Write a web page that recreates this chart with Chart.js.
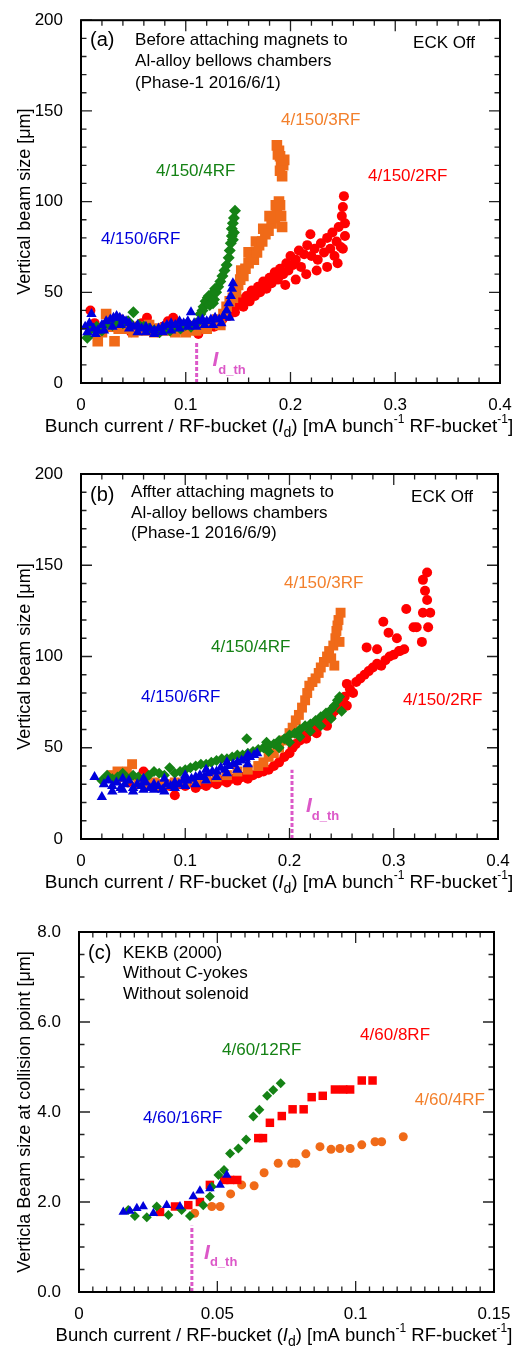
<!DOCTYPE html>
<html lang="en">
<head>
<meta charset="UTF-8">
<title>Vertical beam size vs bunch current</title>
<script src="https://cdn.jsdelivr.net/npm/chart.js"></script>
<style>
  body { margin: 0; background: #fff; }
  canvas { position: absolute; left: 0; }
</style>
</head>
<body>
<canvas id="chartA" width="516" height="450" style="top:0px"></canvas>
<canvas id="chartB" width="516" height="455" style="top:450px"></canvas>
<canvas id="chartC" width="516" height="444" style="top:905px"></canvas>
<script>
// ---- panel (a): before attaching magnets (2016/6/1) ----
const a2RF = [[0.009,40],[0.013,33],[0.018,30],[0.023,32],[0.028,34],[0.033,31],[0.038,35],[0.043,32],[0.048,28],[0.053,30],[0.058,33],[0.063,36],[0.068,30],[0.073,28],[0.078,31],[0.083,34],[0.088,36],[0.093,33],[0.098,30],[0.103,32],[0.108,29],[0.112,27],[0.117,30],[0.122,32],[0.127,31],[0.131,34],
  [0.135,35],[0.138,39],[0.141,37],[0.144,41],[0.147,39],[0.15,43],[0.153,46],[0.155,42],[0.158,48],[0.161,45],[0.163,51],[0.166,48],[0.169,53],[0.171,50],[0.174,56],[0.177,52],[0.18,58],[0.182,55],[0.185,61],[0.188,57],[0.19,63],[0.193,60],[0.195,54],[0.196,66],[0.198,62],[0.2,70],[0.202,65],[0.205,57],[0.205,68],[0.208,73],[0.21,64],[0.213,71],[0.215,60],[0.216,76],[0.219,82],[0.22,70],[0.223,74],[0.225,62],[0.226,68],[0.229,77],[0.232,72],[0.235,64],[0.235,80],[0.238,74],[0.24,83],[0.242,70],[0.244,78],[0.245,66],[0.246,86],[0.248,75],[0.249,92],[0.25,74],[0.25,97],[0.251,103],[0.252,88],[0.252,81]];
const a3RF = [[0.016,23],[0.02,28],[0.024,38],[0.028,31],[0.032,23],[0.036,30],[0.04,33],[0.045,30],[0.05,28],[0.055,31],[0.06,29],[0.065,32],[0.07,28],[0.075,30],[0.08,29],[0.085,31],[0.09,28],[0.095,30],[0.1,28],[0.105,30],[0.11,29],[0.115,31],[0.12,30],[0.125,33],[0.13,35],[0.133,32],
  [0.136,38],[0.139,42],[0.142,45],[0.145,47],[0.148,50],[0.15,54],[0.152,57],[0.153,62],[0.155,59],[0.157,63],[0.16,66],[0.16,72],[0.162,70],[0.165,68],[0.167,78],[0.168,72],[0.17,76],[0.173,78],[0.174,85],[0.176,82],[0.179,84],[0.18,92],[0.182,88],[0.185,91],[0.186,98],[0.187,95],[0.19,98],[0.191,92],[0.192,86],[0.189,100],
  [0.187,131],[0.189,128],[0.19,125],[0.191,122],[0.193,120],[0.19,117],[0.192,114],[0.194,123],[0.188,126]];
const a4RF = [[0.006,25],[0.01,30],[0.015,31],[0.02,29],[0.025,33],[0.03,32],[0.035,35],[0.04,33],[0.045,34],[0.05,39],[0.055,32],[0.06,31],[0.065,30],[0.07,29],[0.075,28],[0.08,30],[0.085,29],[0.09,31],[0.095,30],[0.1,32],[0.105,31],[0.11,33],
  [0.114,38],[0.116,40],[0.117,42],[0.119,45],[0.12,44],[0.121,47],[0.122,48],[0.123,43],[0.125,49],[0.126,44],[0.127,46],[0.128,52],[0.129,50],[0.131,53],[0.133,56],[0.135,59],[0.137,62],[0.139,65],[0.141,69],[0.142,73],[0.143,77],[0.144,81],[0.144,85],[0.145,88],[0.146,91],[0.147,95],[0.146,83],[0.145,79]];
const a6RF = [[0.004,31],[0.008,33],[0.01,38],[0.012,30],[0.016,29],[0.02,32],[0.024,34],[0.028,35],[0.031,36],[0.034,37],[0.037,36],[0.04,35],[0.043,34],[0.046,33],[0.05,31],[0.054,32],[0.058,30],[0.062,31],[0.066,30],[0.07,29],[0.074,30],[0.078,31],[0.082,32],[0.086,33],[0.09,32],[0.094,34],[0.098,33],[0.102,34],[0.105,39],[0.108,33],[0.112,34],[0.116,35],[0.12,34],[0.124,35],[0.128,36],[0.132,35],[0.136,37],[0.139,40],[0.141,44],[0.143,48],[0.144,52],[0.145,55],
  [0.006,28],[0.014,27],[0.022,29],[0.03,31],[0.038,32],[0.046,30],[0.054,28],[0.062,28],[0.07,27],[0.078,28],[0.086,29],[0.094,30],[0.102,31],[0.11,31],[0.118,32],[0.126,32],[0.134,33],[0.142,36]];
const aIdth = [[0.1104,0],[0.1104,22]];

// ---- panel (b): after attaching magnets (2016/6/9) ----
const b2RF = [[0.035,33],[0.045,31],[0.055,30],[0.06,37],[0.065,31],[0.075,30],[0.085,29],[0.09,24],[0.095,30],[0.1,29],[0.105,31],[0.11,28],[0.115,30],[0.12,29],[0.125,31],[0.13,30],[0.135,32],[0.14,31],[0.145,33],[0.15,32],[0.155,34],[0.16,33],[0.165,35],[0.17,36],[0.175,37],[0.18,38],[0.185,40],[0.19,42],[0.195,45],[0.2,47],[0.203,50],[0.206,52],[0.21,54],[0.213,57],[0.216,55],[0.22,59],[0.223,61],[0.226,58],[0.23,63],[0.233,65],[0.236,62],[0.24,67],[0.243,70],[0.246,73],[0.25,75],[0.253,78],[0.255,73],[0.255,85],[0.258,82],[0.261,80],[0.264,86],[0.268,88],[0.272,90],[0.276,92],[0.28,94],[0.284,96],[0.288,95],[0.292,98],[0.296,100],[0.3,101],[0.305,103],[0.31,104],
  [0.274,105],[0.284,104],[0.29,119],[0.295,113],[0.303,110],[0.306,103],[0.312,126],[0.319,116],[0.322,116],[0.327,108],[0.328,142],[0.332,146],[0.33,136],[0.332,131],[0.328,124],[0.335,124],[0.333,116]];
const b3RF = [[0.03,35],[0.035,37],[0.04,34],[0.044,37],[0.049,41],[0.055,33],[0.06,32],[0.065,30],[0.07,31],[0.075,29],[0.08,30],[0.085,30],[0.09,31],[0.1,31],[0.11,32],[0.12,33],[0.13,34],[0.14,35],[0.15,37],[0.16,38],[0.17,40],[0.175,42],[0.18,45],[0.185,47],[0.19,50],[0.195,54],[0.2,58],[0.203,61],[0.206,65],[0.209,68],[0.212,72],[0.215,76],[0.217,80],[0.219,84],[0.222,86],[0.225,88],[0.228,91],[0.23,94],[0.233,97],[0.236,100],[0.238,103],[0.24,99],[0.242,106],[0.244,110],[0.245,114],[0.246,117],[0.247,120],[0.249,124],[0.248,108],[0.243,95]];
const b4RF = [[0.02,32],[0.025,35],[0.03,33],[0.035,34],[0.04,36],[0.045,33],[0.05,35],[0.055,34],[0.06,33],[0.065,35],[0.07,37],[0.075,36],[0.08,35],[0.085,39],[0.09,36],[0.095,37],[0.1,38],[0.105,39],[0.11,40],[0.115,41],[0.12,41],[0.125,42],[0.13,43],[0.135,44],[0.14,44],[0.145,45],[0.15,46],[0.155,46],[0.159,55],[0.16,47],[0.165,48],[0.17,49],[0.175,50],[0.178,53],[0.18,51],[0.185,52],[0.19,54],[0.195,55],[0.2,57],[0.205,58],[0.21,60],[0.215,62],[0.22,63],[0.225,65],[0.23,67],[0.235,69],[0.24,71],[0.243,73],[0.246,76],[0.248,78],
  [0.18,48],[0.19,50],[0.2,53],[0.21,56],[0.22,59],[0.23,62],[0.24,66],[0.25,70]];
const b6RF = [[0.013,34],[0.02,23],[0.022,30],[0.026,32],[0.03,29],[0.034,31],[0.038,28],[0.042,30],[0.046,32],[0.05,28],[0.054,30],[0.058,29],[0.062,31],[0.066,28],[0.07,30],[0.074,29],[0.078,27],[0.082,30],[0.086,29],[0.09,31],[0.094,30],[0.098,32],[0.102,32],[0.106,33],[0.11,34],[0.114,35],[0.118,34],[0.122,36],[0.126,37],[0.13,37],[0.134,39],[0.138,38],[0.142,40],[0.146,41],[0.15,42],[0.154,43],[0.158,44],[0.162,45],[0.166,46],[0.169,47],
  [0.03,26],[0.04,27],[0.05,26],[0.06,27],[0.07,27],[0.08,26],[0.09,28],[0.1,29],[0.11,30],[0.12,32],[0.13,34],[0.14,36],[0.15,38],[0.16,41],
  [0.04,33],[0.06,33],[0.08,33],[0.1,35],[0.12,38],[0.14,42],[0.16,46]];
const bIdth = [[0.2024,0],[0.2024,38]];

// ---- panel (c): KEKB (2000) ----
const c4RF = [[0.0418,1.75],[0.048,1.9],[0.051,1.9],[0.0548,2.18],[0.0588,2.38],[0.0633,2.36],[0.0669,2.65],[0.072,2.86],[0.0769,2.86],[0.0784,2.86],[0.082,3.07],[0.0871,3.23],[0.0911,3.17],[0.0943,3.19],[0.098,3.19],[0.1022,3.27],[0.107,3.34],[0.1094,3.34],[0.1172,3.45]];
const c8RF = [[0.0293,1.78],[0.0347,1.9],[0.0395,1.93],[0.0437,2.0],[0.0473,2.38],[0.0525,2.49],[0.0546,2.49],[0.0572,2.49],[0.0648,3.42],[0.0665,3.42],[0.069,3.76],[0.0733,3.91],[0.0772,4.06],[0.0812,4.06],[0.0841,4.33],[0.0881,4.36],[0.0925,4.5],[0.0955,4.5],[0.098,4.5],[0.1022,4.7],[0.1061,4.7]];
const c12RF = [[0.0178,1.82],[0.0202,1.69],[0.0245,1.66],[0.0281,1.9],[0.0323,1.71],[0.0371,1.82],[0.0401,1.69],[0.0449,1.93],[0.0473,2.12],[0.048,2.34],[0.0504,2.6],[0.0524,2.71],[0.0546,3.08],[0.0576,3.19],[0.0604,3.39],[0.063,3.9],[0.0652,4.05],[0.068,4.36],[0.0702,4.49],[0.0729,4.64]];
const c16RF = [[0.016,1.78],[0.0184,1.8],[0.0209,1.86],[0.0232,1.9],[0.0269,1.75],[0.0317,1.93],[0.0365,1.9],[0.0413,2.12],[0.0437,2.25],[0.0473,2.3],[0.051,2.38],[0.0534,2.6]];
const cIdth = [[0.0408,0],[0.0408,1.47]];

// axis ranges: [min, max, minor step, major step]
const xAxisAB = [0, 0.4, 0.02, 0.1];
const yAxisAB = [0, 200, 10, 50];
const xAxisC = [0, 0.15, 0.005, 0.05];
const yAxisC = [0, 8, 0.5, 2];

const RED = '#ff0000', ORANGE = '#f06a18', GREEN = '#158215', BLUE = '#0000dc', PINK = '#dc58c8';
const ORANGE_TXT = '#f3802c';
const FONT = '"Liberation Sans", Arial, Helvetica, sans-serif';

function isMajor(v, m) {
    return Math.abs(v / m - Math.round(v / m)) < 1e-6;
}

function xTitleParts(size) {
    const f = size + 'px ' + FONT;
    return [
        { t: 'Bunch current / RF-bucket (', font: f },
        { t: 'I', font: 'italic ' + f },
        { t: 'd', font: '14px ' + FONT, dy: 6 },
        { t: ') [mA bunch', font: f },
        { t: '-1', font: '12px ' + FONT, dy: -7 },
        { t: ' RF-bucket', font: f },
        { t: '-1', font: '12px ' + FONT, dy: -7 },
        { t: ']', font: f }
    ];
}

function drawParts(ctx, parts, x, y, center) {
    let w = 0;
    parts.forEach(p => { ctx.font = p.font; p.w = ctx.measureText(p.t).width; w += p.w; });
    let cx = center ? x - w / 2 : x;
    parts.forEach(p => {
        ctx.font = p.font;
        ctx.fillText(p.t, cx, y + (p.dy || 0));
        cx += p.w;
    });
}

// frame, inward ticks on all four sides, notes and axis titles
const decoPlugin = {
    id: 'deco',
    afterDatasetsDraw(chart, args, opts) {
        const ctx = chart.ctx, a = chart.chartArea;
        const xs = chart.scales.x, ys = chart.scales.y;
        ctx.save();
        ctx.strokeStyle = '#222';
        ctx.lineWidth = 1.3;
        ctx.beginPath();
        xs.ticks.forEach(t => {
            const px = xs.getPixelForValue(t.value);
            const len = isMajor(t.value, opts.xMajor) ? 11 : 5.5;
            ctx.moveTo(px, a.bottom); ctx.lineTo(px, a.bottom - len);
            ctx.moveTo(px, a.top); ctx.lineTo(px, a.top + len);
        });
        ys.ticks.forEach(t => {
            const py = ys.getPixelForValue(t.value);
            const len = isMajor(t.value, opts.yMajor) ? 11 : 5.5;
            ctx.moveTo(a.left, py); ctx.lineTo(a.left + len, py);
            ctx.moveTo(a.right, py); ctx.lineTo(a.right - len, py);
        });
        ctx.stroke();
        ctx.strokeStyle = '#000';
        ctx.lineWidth = 2;
        ctx.strokeRect(a.left, a.top, a.right - a.left, a.bottom - a.top);

        // text notes, positioned in data coordinates
        ctx.textBaseline = 'middle';
        ctx.textAlign = 'left';
        opts.notes.forEach(n => {
            ctx.fillStyle = n.color || '#000';
            ctx.font = (n.size || 17) + 'px ' + FONT;
            ctx.fillText(n.t, xs.getPixelForValue(n.x), ys.getPixelForValue(n.y));
        });
        // I_d_th label
        ctx.fillStyle = PINK;
        drawParts(ctx, [
            { t: 'I', font: 'italic bold 21px ' + FONT },
            { t: 'd_th', font: 'bold 13px ' + FONT, dy: 10 }
        ], xs.getPixelForValue(opts.idth[0]), ys.getPixelForValue(opts.idth[1]), false);

        // axis titles
        ctx.fillStyle = '#000';
        drawParts(ctx, xTitleParts(opts.xTitleSize), opts.xTitleX, a.bottom + 44, true);
        ctx.translate(25, (a.top + a.bottom) / 2);
        ctx.rotate(-Math.PI / 2);
        ctx.textAlign = 'center';
        ctx.font = '18px ' + FONT;
        ctx.fillText(opts.yTitle, 0, 0);
        ctx.restore();
    }
};

function scatterSet(pts, color, style, r, order) {
    return {
        data: pts.map(([x, y]) => ({ x, y })),
        backgroundColor: color,
        borderColor: color,
        borderWidth: 0,
        pointStyle: style,
        pointRadius: r,
        order: order
    };
}

function thresholdSet(pts) {
    return {
        type: 'line',
        data: pts.map(([x, y]) => ({ x, y })),
        borderColor: PINK,
        borderWidth: 3,
        borderDash: [4, 2],
        pointRadius: 0,
        showLine: true,
        order: 0
    };
}

function makePanel(id, p) {
    const tickFont = { size: 17, family: FONT };
    new Chart(document.getElementById(id), {
        type: 'scatter',
        data: { datasets: p.datasets },
        plugins: [decoPlugin],
        options: {
            responsive: false,
            animation: false,
            events: [],
            layout: { autoPadding: false, padding: { left: 0, top: p.area[1], right: 516 - p.area[2], bottom: 0 } },
            plugins: {
                legend: { display: false },
                tooltip: { enabled: false },
                deco: {
                    xMajor: p.xAxis[3], yMajor: p.yAxis[3],
                    notes: p.notes, idth: p.idth,
                    yTitle: p.yTitle, xTitleX: p.xTitleX, xTitleSize: p.xTitleSize
                }
            },
            scales: {
                x: {
                    type: 'linear', min: p.xAxis[0], max: p.xAxis[1],
                    afterFit: s => { s.height = p.height - p.area[3]; },
                    grid: { display: false }, border: { display: false },
                    ticks: {
                        stepSize: p.xAxis[2], autoSkip: false, maxRotation: 0, padding: 4,
                        color: '#000', font: tickFont,
                        callback: v => isMajor(v, p.xAxis[3]) ? String(Number(v.toFixed(4))) : ''
                    }
                },
                y: {
                    type: 'linear', min: p.yAxis[0], max: p.yAxis[1],
                    afterFit: s => { s.width = p.area[0]; },
                    grid: { display: false }, border: { display: false },
                    ticks: {
                        stepSize: p.yAxis[2], autoSkip: false, padding: 10,
                        color: '#000', font: tickFont,
                        callback: v => isMajor(v, p.yAxis[3]) ? p.yFmt(v) : ''
                    }
                }
            }
        }
    });
}

makePanel('chartA', {
    height: 450, area: [81, 15, 500, 383],
    xAxis: xAxisAB, yAxis: yAxisAB, yFmt: v => String(v),
    yTitle: 'Vertical beam size [\u03bcm]', xTitleX: 279, xTitleSize: 19,
    idth: [0.1255, 12.5],
    datasets: [
        scatterSet(a6RF, BLUE, 'triangle', 6, 1),
        scatterSet(a4RF, GREEN, 'rectRot', 6, 2),
        scatterSet(a3RF, ORANGE, 'rect', 7.5, 3),
        scatterSet(a2RF, RED, 'circle', 5, 4),
        thresholdSet(aIdth)
    ],
    notes: [
        { t: '(a)', x: 0.0086, y: 188.6, size: 20 },
        { t: 'Before attaching magnets to', x: 0.0516, y: 189 },
        { t: 'Al-alloy bellows chambers', x: 0.0516, y: 177.2 },
        { t: '(Phase-1 2016/6/1)', x: 0.0516, y: 165.2 },
        { t: 'ECK Off', x: 0.317, y: 187.5 },
        { t: '4/150/3RF', x: 0.191, y: 144.6, color: ORANGE_TXT },
        { t: '4/150/4RF', x: 0.0716, y: 116.8, color: GREEN },
        { t: '4/150/2RF', x: 0.274, y: 114, color: RED },
        { t: '4/150/6RF', x: 0.019, y: 79.3, color: BLUE }
    ]
});

makePanel('chartB', {
    height: 455, area: [81, 24, 498, 389],
    xAxis: xAxisAB, yAxis: yAxisAB, yFmt: v => String(v),
    yTitle: 'Vertical beam size [\u03bcm]', xTitleX: 279, xTitleSize: 19,
    idth: [0.2158, 18.1],
    datasets: [
        scatterSet(b6RF, BLUE, 'triangle', 6, 1),
        scatterSet(b4RF, GREEN, 'rectRot', 5.5, 2),
        scatterSet(b3RF, ORANGE, 'rect', 7, 3),
        scatterSet(b2RF, RED, 'circle', 5, 4),
        thresholdSet(bIdth)
    ],
    notes: [
        { t: '(b)', x: 0.0086, y: 188.5, size: 20 },
        { t: 'Affter attaching magnets to', x: 0.048, y: 190.1 },
        { t: 'Al-alloy bellows chambers', x: 0.048, y: 178.6 },
        { t: '(Phase-1 2016/6/9)', x: 0.048, y: 167.7 },
        { t: 'ECK Off', x: 0.3166, y: 187.4 },
        { t: '4/150/3RF', x: 0.1947, y: 140.3, color: ORANGE_TXT },
        { t: '4/150/4RF', x: 0.1247, y: 105.2, color: GREEN },
        { t: '4/150/6RF', x: 0.0576, y: 77.8, color: BLUE },
        { t: '4/150/2RF', x: 0.3089, y: 76.2, color: RED }
    ]
});

makePanel('chartC', {
    height: 444, area: [79, 27, 494, 387],
    xAxis: xAxisC, yAxis: yAxisC, yFmt: v => v.toFixed(1),
    yTitle: 'Verticla Beam size at collision point [\u03bcm]', xTitleX: 284, xTitleSize: 18.5,
    idth: [0.0452, 0.87],
    datasets: [
        scatterSet(c16RF, BLUE, 'triangle', 5.5, 1),
        scatterSet(c12RF, GREEN, 'rectRot', 5, 2),
        scatterSet(c8RF, RED, 'rect', 6, 3),
        scatterSet(c4RF, ORANGE, 'circle', 4.5, 4),
        thresholdSet(cIdth)
    ],
    notes: [
        { t: '(c)', x: 0.00325, y: 7.53, size: 20 },
        { t: 'KEKB (2000)', x: 0.0159, y: 7.53 },
        { t: 'Without C-yokes', x: 0.0159, y: 7.09 },
        { t: 'Without solenoid', x: 0.0159, y: 6.62 },
        { t: '4/60/12RF', x: 0.0517, y: 5.38, color: GREEN },
        { t: '4/60/8RF', x: 0.1016, y: 5.71, color: RED },
        { t: '4/60/4RF', x: 0.1214, y: 4.27, color: ORANGE_TXT },
        { t: '4/60/16RF', x: 0.0231, y: 3.87, color: BLUE }
    ]
});
</script>
</body>
</html>
